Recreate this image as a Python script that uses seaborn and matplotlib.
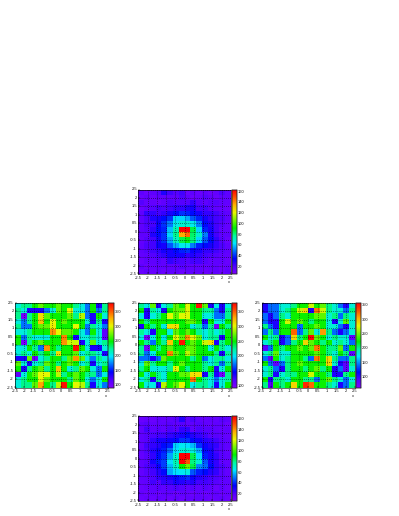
import numpy as np
import pandas as pd
import matplotlib
matplotlib.use("Agg")
import matplotlib.pyplot as plt
from matplotlib.colors import LinearSegmentedColormap
import seaborn as sns

W, H = 399, 516
TICKS = [-2.5, -2, -1.5, -1, -0.5, 0, 0.5, 1, 1.5, 2, 2.5]
TICK_LABELS = ["-2.5", "-2", "-1.5", "-1", "-0.5", "0", "0.5", "1", "1.5", "2", "2.5"]

top_counts = [
    [15, 12, 15, 18, 28, 22, 18, 22, 12, 15, 12, 15, 12, 14, 20, 15],
    [12, 15, 12, 15, 15, 15, 15, 20, 15, 12, 14, 18, 15, 12, 15, 15],
    [18, 14, 14, 12, 15, 20, 18, 18, 18, 25, 18, 15, 18, 18, 15, 14],
    [12, 15, 18, 22, 20, 22, 25, 25, 28, 30, 22, 22, 18, 15, 14, 12],
    [15, 25, 25, 22, 25, 30, 35, 40, 38, 35, 30, 25, 25, 22, 18, 15],
    [15, 20, 28, 30, 35, 40, 60, 60, 55, 45, 38, 30, 25, 22, 20, 15],
    [15, 20, 22, 32, 40, 50, 65, 70, 70, 65, 50, 35, 28, 22, 18, 14],
    [15, 18, 25, 35, 38, 58, 75, 165, 165, 85, 60, 38, 30, 22, 15, 14],
    [15, 15, 28, 35, 40, 60, 78, 135, 145, 82, 70, 50, 30, 22, 15, 15],
    [14, 18, 22, 30, 40, 55, 72, 85, 90, 80, 60, 45, 35, 25, 18, 12],
    [15, 20, 22, 32, 30, 45, 55, 65, 65, 50, 38, 35, 30, 25, 20, 15],
    [15, 18, 22, 25, 30, 30, 35, 38, 40, 32, 30, 25, 25, 22, 18, 15],
    [14, 15, 18, 22, 25, 30, 30, 30, 25, 28, 25, 22, 20, 18, 15, 14],
    [12, 15, 15, 18, 15, 25, 22, 20, 18, 22, 22, 18, 15, 15, 15, 12],
    [15, 12, 14, 15, 15, 15, 15, 18, 15, 15, 15, 14, 15, 15, 12, 14],
    [12, 15, 12, 15, 12, 15, 15, 12, 15, 15, 15, 12, 14, 15, 12, 15],
]

bottom_counts = [
    [12, 14, 12, 15, 14, 15, 18, 28, 15, 20, 15, 14, 15, 14, 18, 15],
    [15, 18, 14, 15, 15, 18, 15, 18, 15, 15, 18, 15, 14, 15, 15, 12],
    [14, 22, 15, 18, 15, 20, 18, 25, 25, 15, 20, 18, 18, 15, 14, 15],
    [15, 18, 20, 22, 22, 25, 28, 30, 35, 28, 25, 22, 18, 18, 15, 14],
    [15, 18, 25, 30, 30, 32, 35, 40, 40, 35, 32, 28, 25, 22, 18, 15],
    [14, 22, 25, 28, 35, 38, 60, 65, 62, 58, 40, 32, 28, 25, 18, 15],
    [15, 20, 28, 32, 38, 48, 62, 70, 70, 68, 55, 35, 30, 22, 18, 14],
    [14, 18, 25, 35, 40, 55, 72, 165, 165, 85, 62, 38, 30, 25, 18, 15],
    [15, 18, 30, 38, 42, 62, 75, 165, 150, 80, 70, 45, 30, 25, 15, 14],
    [15, 20, 25, 32, 42, 58, 72, 92, 105, 85, 52, 48, 35, 25, 20, 15],
    [14, 18, 22, 28, 35, 55, 62, 65, 68, 45, 38, 35, 28, 25, 18, 14],
    [15, 16, 20, 25, 28, 30, 35, 38, 40, 32, 28, 25, 22, 20, 18, 15],
    [14, 15, 22, 18, 25, 25, 30, 28, 25, 28, 22, 22, 20, 18, 15, 15],
    [12, 14, 15, 18, 15, 18, 20, 18, 15, 18, 15, 18, 15, 12, 15, 12],
    [14, 12, 15, 12, 15, 15, 12, 15, 14, 12, 15, 12, 14, 15, 12, 14],
    [12, 14, 12, 15, 14, 12, 15, 12, 15, 14, 15, 14, 12, 14, 15, 12],
]

left_counts = [
    [205, 225, 225, 250, 270, 250, 250, 270, 250, 250, 225, 205, 170, 250, 135, 225],
    [225, 205, 135, 135, 135, 170, 205, 270, 250, 300, 205, 205, 170, 250, 170, 225],
    [225, 100, 225, 250, 310, 270, 250, 250, 250, 270, 225, 290, 170, 135, 250, 205],
    [205, 170, 225, 250, 320, 250, 300, 250, 270, 250, 250, 250, 205, 135, 225, 135],
    [225, 170, 170, 250, 270, 270, 305, 250, 250, 250, 300, 250, 170, 225, 205, 170],
    [205, 205, 225, 250, 250, 250, 335, 300, 270, 270, 250, 205, 170, 250, 205, 110],
    [250, 170, 225, 205, 205, 205, 250, 250, 340, 250, 135, 205, 205, 225, 205, 110],
    [250, 95, 225, 250, 270, 250, 250, 250, 335, 295, 295, 135, 205, 270, 205, 225],
    [205, 205, 250, 225, 170, 335, 250, 225, 250, 250, 375, 250, 205, 135, 135, 205],
    [205, 225, 205, 250, 225, 250, 225, 310, 250, 250, 270, 205, 225, 225, 205, 135],
    [135, 135, 270, 100, 205, 225, 250, 250, 225, 270, 335, 270, 205, 170, 225, 205],
    [270, 205, 135, 205, 225, 270, 250, 225, 250, 270, 250, 205, 225, 135, 205, 225],
    [250, 135, 225, 250, 270, 225, 250, 320, 250, 205, 225, 270, 250, 205, 170, 250],
    [110, 205, 250, 270, 300, 300, 250, 290, 225, 250, 270, 250, 225, 225, 170, 205],
    [205, 225, 250, 250, 300, 270, 250, 250, 250, 225, 270, 250, 205, 170, 205, 250],
    [205, 225, 225, 270, 330, 250, 225, 290, 375, 250, 300, 290, 225, 135, 205, 170],
]

middle_counts = [
    [225, 205, 270, 135, 205, 225, 270, 250, 300, 250, 375, 270, 135, 205, 135, 205],
    [250, 135, 225, 205, 135, 250, 270, 270, 300, 250, 250, 225, 225, 170, 135, 225],
    [205, 135, 205, 225, 250, 300, 270, 300, 300, 250, 250, 205, 205, 170, 170, 225],
    [250, 225, 250, 250, 250, 250, 250, 250, 270, 270, 250, 135, 250, 205, 205, 250],
    [135, 250, 225, 250, 205, 310, 310, 250, 250, 205, 225, 170, 225, 100, 250, 225],
    [225, 205, 135, 250, 250, 205, 270, 250, 270, 250, 225, 205, 225, 205, 225, 250],
    [205, 100, 205, 250, 205, 250, 300, 270, 335, 300, 270, 205, 225, 225, 135, 250],
    [250, 225, 170, 250, 225, 320, 250, 375, 250, 270, 250, 295, 310, 135, 225, 250],
    [225, 100, 250, 225, 250, 270, 250, 250, 270, 270, 250, 250, 205, 250, 225, 205],
    [225, 170, 205, 250, 250, 340, 270, 250, 290, 270, 250, 250, 250, 225, 135, 225],
    [170, 170, 135, 170, 270, 250, 250, 250, 250, 225, 250, 170, 205, 225, 225, 205],
    [205, 270, 225, 250, 250, 225, 250, 270, 250, 250, 250, 225, 205, 225, 170, 225],
    [225, 250, 205, 205, 205, 225, 300, 250, 225, 250, 250, 225, 250, 135, 205, 250],
    [250, 205, 250, 225, 205, 250, 250, 270, 270, 310, 310, 135, 225, 135, 100, 225],
    [205, 225, 135, 225, 205, 250, 250, 250, 250, 345, 250, 225, 205, 170, 205, 225],
    [250, 205, 205, 135, 290, 250, 270, 300, 250, 205, 225, 225, 205, 135, 205, 250],
]

right_counts = [
    [105, 140, 140, 180, 180, 200, 225, 225, 270, 225, 245, 200, 180, 140, 105, 180],
    [105, 140, 140, 180, 200, 225, 270, 290, 105, 320, 270, 200, 180, 180, 140, 200],
    [140, 105, 140, 200, 180, 225, 225, 225, 225, 245, 245, 180, 200, 140, 200, 180],
    [140, 105, 105, 225, 270, 225, 245, 225, 200, 225, 225, 180, 105, 180, 245, 180],
    [200, 140, 105, 225, 225, 225, 140, 225, 225, 245, 225, 180, 180, 140, 105, 180],
    [140, 200, 140, 225, 225, 325, 140, 200, 245, 180, 310, 200, 140, 105, 140, 180],
    [225, 180, 200, 105, 140, 290, 200, 225, 355, 245, 225, 180, 200, 180, 180, 80],
    [180, 200, 225, 105, 140, 200, 225, 290, 245, 225, 200, 225, 180, 200, 180, 140],
    [80, 140, 225, 200, 225, 225, 245, 225, 245, 320, 225, 200, 200, 245, 140, 225],
    [180, 200, 245, 180, 180, 225, 225, 225, 225, 245, 225, 200, 180, 225, 200, 80],
    [140, 80, 225, 180, 200, 225, 225, 200, 140, 320, 225, 290, 200, 140, 140, 200],
    [225, 140, 80, 140, 200, 225, 245, 225, 225, 225, 225, 290, 180, 105, 80, 200],
    [180, 200, 140, 105, 200, 225, 225, 200, 225, 245, 200, 225, 105, 140, 80, 180],
    [180, 200, 105, 180, 200, 200, 225, 225, 270, 225, 225, 200, 105, 105, 200, 225],
    [225, 105, 200, 200, 180, 225, 225, 200, 200, 140, 225, 245, 200, 180, 140, 180],
    [200, 80, 225, 200, 225, 290, 225, 345, 325, 225, 225, 200, 180, 105, 140, 200],
]

row_labels = np.arange(16)
col_labels = np.arange(16)

top_cbar_ticks = [20, 40, 60, 80, 100, 120, 140, 160]
noise_cbar_ticks = [100, 150, 200, 250, 300, 350]

root_rainbow = LinearSegmentedColormap.from_list(
    "root_rainbow",
    ["#8000ff", "#5000ff", "#0000ff", "#0070ff", "#00e8ff", "#00f8a0",
     "#00f000", "#70f800", "#e8f800", "#ffb000", "#ff5000", "#ff0000"],
)

sns.set_theme(style="white", rc={"font.family": ["Liberation Sans"]})
fig = plt.figure(figsize=(W / 100, H / 100), dpi=100, facecolor="white")


def to_pos(v):
    return (np.asarray(v, float) + 2.5) / 5 * 16


def panel(counts, x0, x1, y0, y1, cb1, vmin, vmax, cticks):
    ax = fig.add_axes([x0 / W, 1 - y1 / H, (x1 - x0) / W, (y1 - y0) / H])
    cax = fig.add_axes([(x1 + 0.7) / W, 1 - y1 / H, (cb1 - x1 - 0.7) / W, (y1 - y0) / H])
    df = pd.DataFrame(counts, index=row_labels, columns=col_labels)
    sns.heatmap(df, ax=ax, cbar_ax=cax, cmap=root_rainbow, vmin=vmin, vmax=vmax,
                cbar_kws={"ticks": cticks}, rasterized=True)
    ax.set_xlabel("")
    ax.set_ylabel("")
    ax.set_xticks(to_pos(TICKS), TICK_LABELS, rotation=0)
    ax.set_yticks(to_pos(TICKS)[::-1], TICK_LABELS, rotation=0)
    ax.set_xlim(0, 16)
    ax.set_ylim(16, 0)
    ax.tick_params(axis="both", which="major", direction="in", length=1.6, width=0.35,
                   labelsize=2.9, pad=1.0, color="black", labelcolor="#111111",
                   bottom=True, left=True)
    ax.grid(True, color="black", linestyle=(0, (1, 2)), linewidth=0.5, alpha=0.9)
    ax.set_axisbelow(False)
    for s in ax.spines.values():
        s.set_visible(True)
        s.set_linewidth(0.4)
        s.set_color("black")
    cax.tick_params(axis="y", which="major", direction="in", length=1.6, width=0.35,
                    labelsize=2.9, pad=0.8, color="black", labelcolor="#111111", right=True)
    for s in cax.spines.values():
        s.set_visible(True)
        s.set_linewidth(0.35)
    fig.text((x1 - 2) / W, 1 - (y1 + 8) / H, "x", fontsize=2.9, ha="center", va="center",
             color="#111111")


panel(top_counts, 138.3, 231, 189.5, 274.3, 236.8, 5, 163, top_cbar_ticks)
panel(left_counts, 15, 107.7, 302.7, 387.7, 113.5, 90, 380, noise_cbar_ticks)
panel(middle_counts, 138.3, 231, 302.7, 387.7, 236.8, 92, 380, noise_cbar_ticks)
panel(right_counts, 261.7, 355, 302.7, 387.7, 360.5, 60, 358, noise_cbar_ticks)
panel(bottom_counts, 138.3, 231, 416.3, 501.3, 236.8, 5, 165, top_cbar_ticks)

fig.savefig("out.png", dpi=100, facecolor="white")
